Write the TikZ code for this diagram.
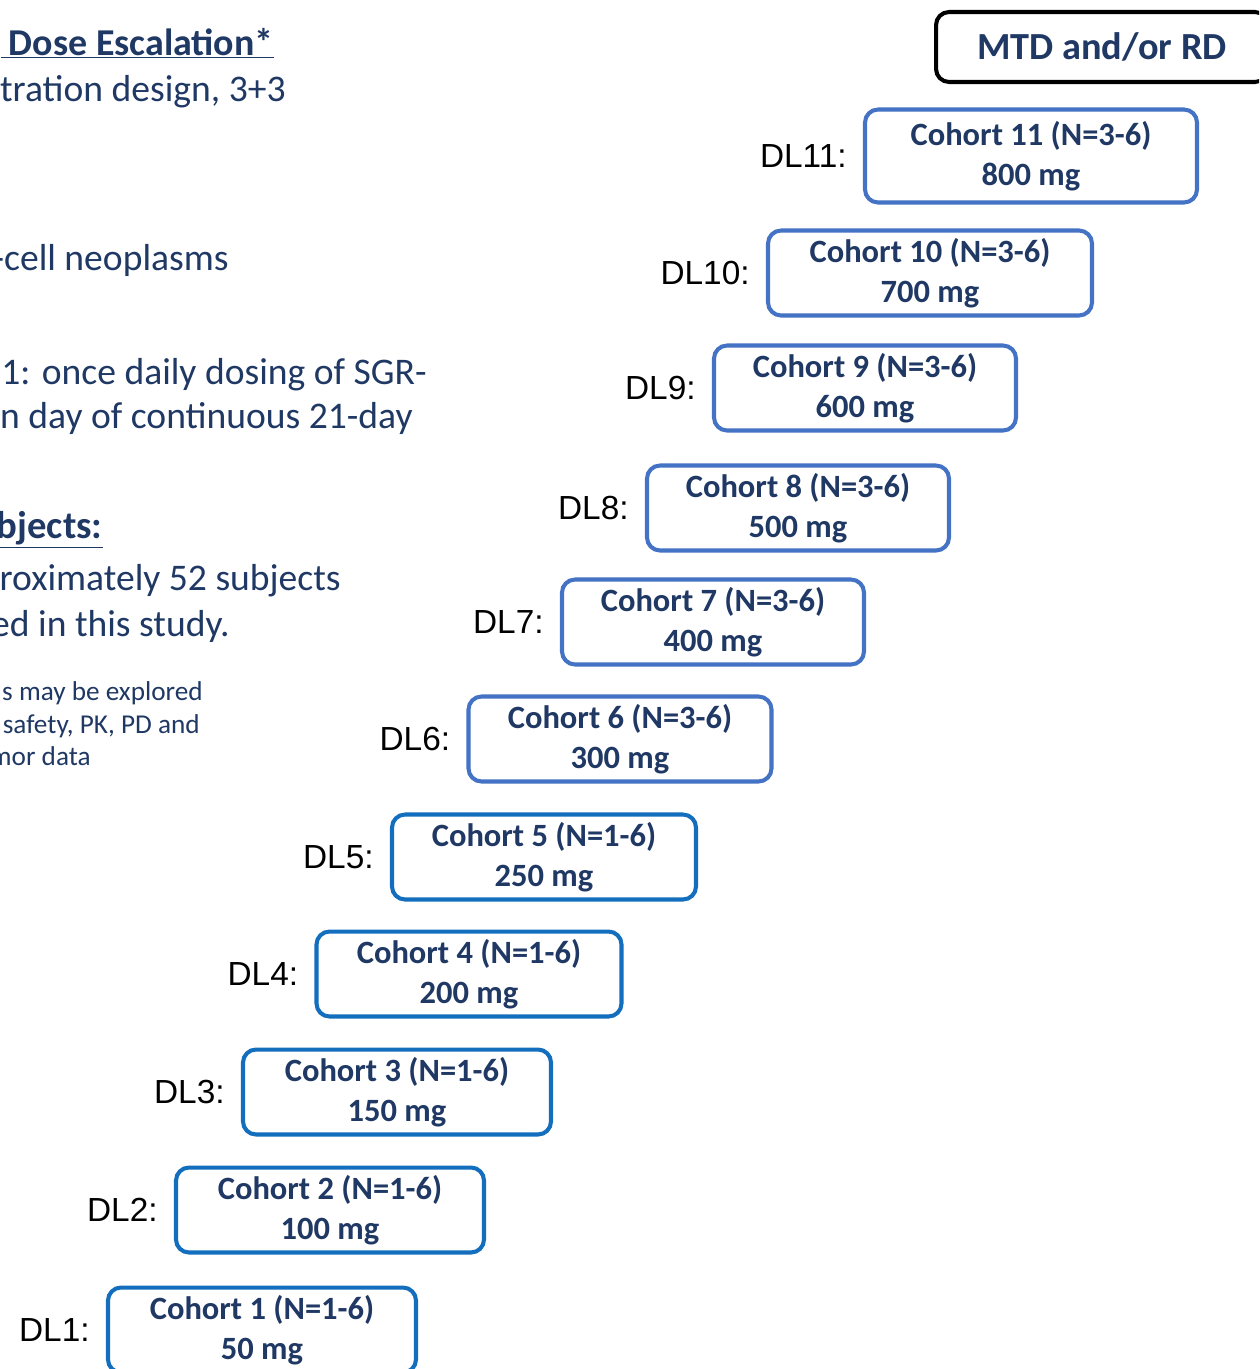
\documentclass[tikz,border=0pt]{standalone}
\usepackage{fontspec}
\setmainfont{Carlito}
\newfontfamily\arialfont{Liberation Sans}
\usepackage{xcolor}
\usetikzlibrary{positioning}
\definecolor{navy}{RGB}{31,56,100}
\definecolor{boxblue}{RGB}{68,114,196}
\definecolor{lowblue}{RGB}{20,110,190}

\begin{document}
\begin{tikzpicture}[x=0.02cm, y=-0.02cm,
    cohort/.style={rectangle, draw=boxblue, line width=2.3pt, rounded corners=0.26cm,
        minimum height=1.7cm, inner sep=0pt, align=center, text=navy,
        font=\bfseries\fontsize{18.5}{22.5}\selectfont},
    dllabel/.style={inner sep=0pt, font=\arialfont\fontsize{19}{22}\selectfont},
    bodytext/.style={anchor=base east, inner sep=0pt, text=navy, font=\fontsize{21.4}{25}\selectfont},
    notetext/.style={bodytext, font=\fontsize{15.5}{18}\selectfont}]
    \useasboundingbox (0,0) rectangle (1259,1369);
    \clip (0,0) rectangle (1259,1369);

    % left column (cut off at the page edge)
    \node [bodytext, font=\bfseries\fontsize{21.6}{26}\selectfont] (title) at (274,55) {\underline{\hspace{0.16cm}Dose Escalation*}};
    \node [bodytext] (design) at (286,101) {tration design, 3+3};
    \node [bodytext] (neoplasm) at (229,270) {-cell neoplasms};
    \node [bodytext] (dosing1) at (427,384) {1: once daily dosing of SGR-};
    \node [bodytext] (dosing2) at (413,428) {n day of continuous 21-day};
    \node [bodytext, font=\bfseries\fontsize{22}{26}\selectfont] (subj) at (103,538) {\underline{\hspace{0.3cm}bjects:}};
    \node [bodytext] (enroll1) at (341,590) {roximately 52 subjects};
    \node [bodytext] (enroll2) at (230,636) {ed in this study.};
    \node [notetext] (note1) at (203,700) {s may be explored};
    \node [notetext] (note2) at (200,733) {safety, PK, PD and};
    \node [notetext] (note3) at (91,765) {mor data};

    % target box
    \node [cohort, draw=black, minimum width=6.64cm, minimum height=1.4cm,
        font=\bfseries\fontsize{21.8}{25}\selectfont] (mtd) at (1102,47) {MTD and/or RD};

    % staircase of cohorts
    \foreach \i/\nrange/\dose/\x/\y/\w/\h/\col in {1/1-6/50/262/1330/308/1.7/lowblue, 2/1-6/100/330/1210/308/1.7/lowblue,
        3/1-6/150/397/1092/308/1.7/lowblue, 4/1-6/200/469/974/305/1.7/lowblue, 5/1-6/250/544/857/304/1.7/lowblue,
        6/3-6/300/620/739/303/1.7/boxblue, 7/3-6/400/713/622/302/1.7/boxblue, 8/3-6/500/798/508/302/1.7/boxblue,
        9/3-6/600/865/388/302/1.7/boxblue, 10/3-6/700/930/273/324/1.7/boxblue, 11/3-6/800/1031/156/332/1.86/boxblue}{
        \node [cohort, draw=\col, minimum width=\w*0.02cm, minimum height=\h cm] (c\i) at (\x,\y) {Cohort \i{} (N=\nrange)\\\dose{} mg};
        \node [dllabel, left=0.32cm of c\i] (dl\i) {DL\i:};
    }
\end{tikzpicture}
\end{document}
